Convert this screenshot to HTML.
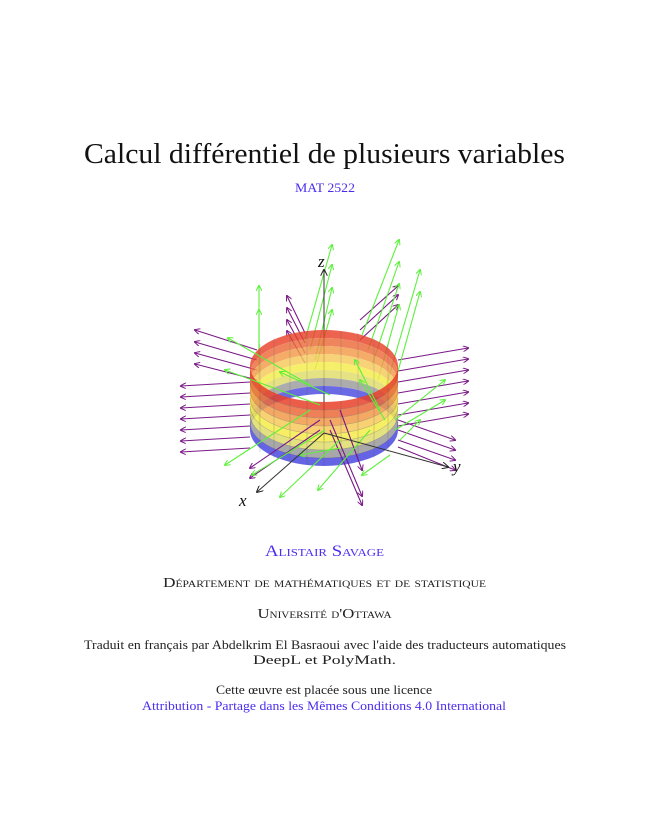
<!DOCTYPE html>
<html><head><meta charset="utf-8"><style>
html,body{margin:0;padding:0;background:#fff;}
svg{display:block;}
text{font-family:"Liberation Serif",serif;}
</style></head><body>
<svg width="647" height="839" viewBox="0 0 647 839" xmlns="http://www.w3.org/2000/svg">
<defs>
<marker id="mp" markerWidth="6" markerHeight="6" refX="5" refY="3" orient="auto" markerUnits="userSpaceOnUse"><path d="M0,0 L6,3 L0,6" fill="none" stroke="#7a1a86" stroke-width="1"/></marker>
<marker id="mg" markerWidth="6" markerHeight="6" refX="5" refY="3" orient="auto" markerUnits="userSpaceOnUse"><path d="M0,0 L6,3 L0,6" fill="none" stroke="#5cf03a" stroke-width="1"/></marker>
<marker id="mk" markerWidth="7" markerHeight="7" refX="6" refY="3.5" orient="auto" markerUnits="userSpaceOnUse"><path d="M0,0 L7,3.5 L0,7" fill="none" stroke="#222" stroke-width="1"/></marker>
</defs>
<rect width="647" height="839" fill="#fff"/>
<text x="324.5" y="163" font-size="28" text-anchor="middle" textLength="481" lengthAdjust="spacingAndGlyphs" fill="#111">Calcul différentiel de plusieurs variables</text>
<text x="325" y="192" font-size="13" text-anchor="middle" textLength="60" lengthAdjust="spacingAndGlyphs" fill="#4a2cf0">MAT 2522</text>

<g stroke="#7a1a86" stroke-width="1.1" marker-end="url(#mp)" fill="none">
<line x1="257" y1="350" x2="195" y2="330"/>
<line x1="257" y1="360" x2="195" y2="342"/>
<line x1="257" y1="370" x2="195" y2="353"/>
<line x1="257" y1="380" x2="195" y2="364"/>
<line x1="250" y1="382" x2="181" y2="386"/>
<line x1="250" y1="393" x2="181" y2="397"/>
<line x1="250" y1="404" x2="181" y2="408"/>
<line x1="250" y1="415" x2="181" y2="419"/>
<line x1="250" y1="426" x2="181" y2="430"/>
<line x1="250" y1="437" x2="181" y2="441"/>
<line x1="250" y1="448" x2="181" y2="452"/>
<line x1="398" y1="360" x2="468" y2="348"/>
<line x1="398" y1="371" x2="468" y2="359"/>
<line x1="398" y1="382" x2="468" y2="370"/>
<line x1="398" y1="393" x2="468" y2="381"/>
<line x1="398" y1="404" x2="468" y2="392"/>
<line x1="398" y1="415" x2="468" y2="403"/>
<line x1="398" y1="426" x2="468" y2="414"/>
<line x1="398" y1="420" x2="455" y2="440"/>
<line x1="398" y1="430" x2="455" y2="450"/>
<line x1="398" y1="440" x2="455" y2="460"/>
<line x1="305" y1="333" x2="287" y2="296"/>
<line x1="305" y1="343" x2="287" y2="308"/>
<line x1="305" y1="353" x2="287" y2="320"/>
<line x1="305" y1="363" x2="287" y2="331"/>
<line x1="360" y1="340" x2="398" y2="305"/>
<line x1="360" y1="330" x2="398" y2="295"/>
<line x1="360" y1="320" x2="398" y2="286"/>
</g>
<g stroke="#5cf03a" stroke-width="1.1" marker-end="url(#mg)" fill="none">
<line x1="305" y1="340" x2="332" y2="245"/>
<line x1="310" y1="350" x2="332" y2="265"/>
<line x1="315" y1="360" x2="332" y2="288"/>
<line x1="315" y1="370" x2="332" y2="310"/>
<line x1="362" y1="335" x2="399" y2="240"/>
<line x1="368" y1="350" x2="399" y2="262"/>
<line x1="372" y1="365" x2="399" y2="284"/>
<line x1="378" y1="380" x2="399" y2="305"/>
<line x1="385" y1="390" x2="420" y2="270"/>
<line x1="390" y1="400" x2="420" y2="292"/>
<line x1="259" y1="425" x2="259" y2="286"/>
<line x1="259" y1="380" x2="259" y2="310"/>
</g>

<line x1="324" y1="440" x2="324" y2="270" stroke="#333" stroke-width="1" marker-end="url(#mk)"/>
<!-- back wall -->
<g opacity="0.82">
<path d="M250,366 A74,36 0 0 1 398,366 L398,374 A74,36 0 0 0 250,374Z" fill="#e8412a"/>
<path d="M250,374 A74,36 0 0 1 398,374 L398,382 A74,36 0 0 0 250,382Z" fill="#ec6b3a"/>
<path d="M250,382 A74,36 0 0 1 398,382 L398,390 A74,36 0 0 0 250,390Z" fill="#f29a48"/>
<path d="M250,390 A74,36 0 0 1 398,390 L398,398 A74,36 0 0 0 250,398Z" fill="#f7c95a"/>
<path d="M250,398 A74,36 0 0 1 398,398 L398,406 A74,36 0 0 0 250,406Z" fill="#f5ec4a"/>
<path d="M250,406 A74,36 0 0 1 398,406 L398,414 A74,36 0 0 0 250,414Z" fill="#e0dc6a"/>
<path d="M250,414 A74,36 0 0 1 398,414 L398,422 A74,36 0 0 0 250,422Z" fill="#9a9a9a"/>
<path d="M250,422 A74,36 0 0 1 398,422 L398,430 A74,36 0 0 0 250,430Z" fill="#4a4ae0"/>
</g>
<g stroke="#555" stroke-width="0.4" opacity="0.5" fill="none">
<line x1="260" y1="344" x2="260" y2="408"/><line x1="274" y1="338" x2="274" y2="402"/><line x1="290" y1="333" x2="290" y2="397"/><line x1="307" y1="331" x2="307" y2="395"/><line x1="341" y1="331" x2="341" y2="395"/><line x1="358" y1="333" x2="358" y2="397"/><line x1="374" y1="338" x2="374" y2="402"/><line x1="388" y1="344" x2="388" y2="408"/>
</g>
<!-- front wall -->
<g opacity="0.85">
<path d="M250,366 A74,36 0 0 0 398,366 L398,374 A74,36 0 0 1 250,374Z" fill="#e8412a"/>
<path d="M250,374 A74,36 0 0 0 398,374 L398,382 A74,36 0 0 1 250,382Z" fill="#ec6b3a"/>
<path d="M250,382 A74,36 0 0 0 398,382 L398,390 A74,36 0 0 1 250,390Z" fill="#f29a48"/>
<path d="M250,390 A74,36 0 0 0 398,390 L398,398 A74,36 0 0 1 250,398Z" fill="#f7c95a"/>
<path d="M250,398 A74,36 0 0 0 398,398 L398,406 A74,36 0 0 1 250,406Z" fill="#f5ec4a"/>
<path d="M250,406 A74,36 0 0 0 398,406 L398,414 A74,36 0 0 1 250,414Z" fill="#e0dc6a"/>
<path d="M250,414 A74,36 0 0 0 398,414 L398,422 A74,36 0 0 1 250,422Z" fill="#9a9a9a"/>
<path d="M250,422 A74,36 0 0 0 398,422 L398,430 A74,36 0 0 1 250,430Z" fill="#4a4ae0"/>
</g>
<g stroke="#555" stroke-width="0.4" opacity="0.6" fill="none">
<path d="M250,374 A74,36 0 0 0 398,374"/><path d="M250,382 A74,36 0 0 0 398,382"/><path d="M250,390 A74,36 0 0 0 398,390"/><path d="M250,398 A74,36 0 0 0 398,398"/><path d="M250,406 A74,36 0 0 0 398,406"/><path d="M250,414 A74,36 0 0 0 398,414"/><path d="M250,422 A74,36 0 0 0 398,422"/>
<line x1="260" y1="388" x2="260" y2="452"/><line x1="274" y1="394" x2="274" y2="458"/><line x1="290" y1="398" x2="290" y2="462"/><line x1="307" y1="401" x2="307" y2="465"/><line x1="324" y1="402" x2="324" y2="466"/><line x1="341" y1="401" x2="341" y2="465"/><line x1="358" y1="398" x2="358" y2="462"/><line x1="374" y1="394" x2="374" y2="458"/><line x1="388" y1="388" x2="388" y2="452"/>
</g>
<g stroke="#7a1a86" stroke-width="1.1" marker-end="url(#mp)" fill="none">
<line x1="320" y1="420" x2="250" y2="468"/>
<line x1="320" y1="430" x2="250" y2="478"/>
<line x1="330" y1="420" x2="362" y2="496"/>
<line x1="330" y1="430" x2="362" y2="505"/>
<line x1="340" y1="410" x2="362" y2="470"/>
<line x1="398" y1="447" x2="455" y2="470"/>
</g>
<g stroke="#5cf03a" stroke-width="1.1" marker-end="url(#mg)" fill="none">
<line x1="310" y1="410" x2="225" y2="465"/>
<line x1="325" y1="430" x2="252" y2="475"/>
<line x1="340" y1="440" x2="280" y2="497"/>
<line x1="370" y1="430" x2="318" y2="490"/>
<line x1="320" y1="405" x2="225" y2="370"/>
<line x1="310" y1="385" x2="228" y2="338"/>
<line x1="330" y1="395" x2="280" y2="372"/>
<line x1="380" y1="410" x2="355" y2="360"/>
<line x1="385" y1="420" x2="360" y2="380"/>
<line x1="395" y1="420" x2="445" y2="380"/>
<line x1="395" y1="430" x2="445" y2="400"/>
<line x1="400" y1="440" x2="420" y2="420"/>
<line x1="390" y1="455" x2="362" y2="475"/>
<line x1="340" y1="448" x2="300" y2="455"/>
</g>
<line x1="324" y1="433" x2="257" y2="492" stroke="#333" stroke-width="1" marker-end="url(#mk)"/>
<line x1="324" y1="433" x2="448" y2="467" stroke="#333" stroke-width="1" marker-end="url(#mk)"/>
<text x="318" y="267" font-size="17" font-style="italic" fill="#111">z</text>
<text x="239" y="506" font-size="17" font-style="italic" fill="#111">x</text>
<text x="453" y="472" font-size="17" font-style="italic" fill="#111">y</text>

<g font-variant="small-caps" text-anchor="middle">
<text x="324.5" y="556" font-size="16" textLength="119" lengthAdjust="spacingAndGlyphs" fill="#4a2cf0">Alistair Savage</text>
<text x="324.5" y="587" font-size="13.5" textLength="323" lengthAdjust="spacingAndGlyphs" fill="#222">Département de mathématiques et de statistique</text>
<text x="324.5" y="618" font-size="13.5" textLength="134" lengthAdjust="spacingAndGlyphs" fill="#222">Université d'Ottawa</text>
</g>
<g text-anchor="middle" font-size="13" fill="#222">
<text x="325" y="649" textLength="482" lengthAdjust="spacingAndGlyphs">Traduit en français par Abdelkrim El Basraoui avec l'aide des traducteurs automatiques</text>
<text x="324.5" y="664" textLength="143" lengthAdjust="spacingAndGlyphs">DeepL et PolyMath.</text>
<text x="324" y="694" textLength="216" lengthAdjust="spacingAndGlyphs">Cette œuvre est placée sous une licence</text>
<text x="324" y="710" textLength="364" lengthAdjust="spacingAndGlyphs" fill="#4a2cf0">Attribution - Partage dans les Mêmes Conditions 4.0 International</text>
</g>
</svg>
</body></html>
